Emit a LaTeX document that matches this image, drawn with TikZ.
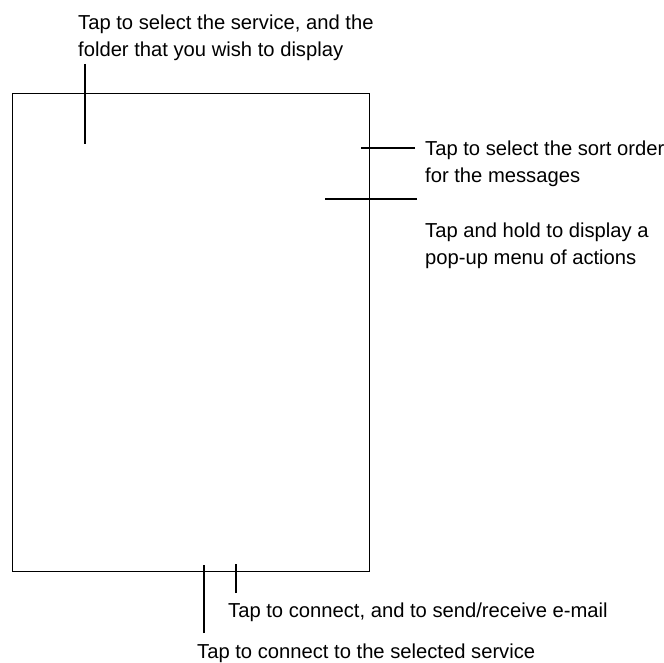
\documentclass[tikz,border=0pt]{standalone}
\usepackage{fontspec}
\setmainfont{Liberation Sans}
\begin{document}
\begin{tikzpicture}[x=1pt,y=-1pt,
  lbl/.style={anchor=base west, inner sep=0pt, align=left, font=\fontsize{20.2}{27}\selectfont},
  leader/.style={draw=black, line width=1.2pt},
  screenbox/.style={draw=black, line width=1.3pt, inner sep=0pt, anchor=north west, minimum width=357pt, minimum height=477.5pt}]
\useasboundingbox (0,0) rectangle (664,663);
\node[screenbox] (screen) at (12,93) {};
% labels (base anchor = baseline of the last line)
\node[lbl] (ltop) at (78,57) {Tap to select the service, and the\\folder that you wish to display};
\node[lbl] (lsort) at (425,183) {Tap to select the sort order\\for the messages};
\node[lbl] (lhold) at (425,265) {Tap and hold to display a\\pop-up menu of actions};
\node[lbl] (lsend) at (228,617) {Tap to connect, and to send/receive e-mail};
\node[lbl] (lconn) at (197,658) {Tap to connect to the selected service};
% leader end points
\coordinate (topA) at (85,64);
\coordinate (topB) at (85,144);
\coordinate (sortA) at (415,148);
\coordinate (sortB) at (361,148);
\coordinate (holdA) at (417,199);
\coordinate (holdB) at (325,199);
\coordinate (sendA) at (236,593);
\coordinate (sendB) at (236,564);
\coordinate (connA) at (204,633);
\coordinate (connB) at (204,565);
\draw[leader] (topA) -- (topB);
\draw[leader] (sortA) -- (sortB);
\draw[leader] (holdA) -- (holdB);
\draw[leader] (sendA) -- (sendB);
\draw[leader] (connA) -- (connB);
\end{tikzpicture}
\end{document}
